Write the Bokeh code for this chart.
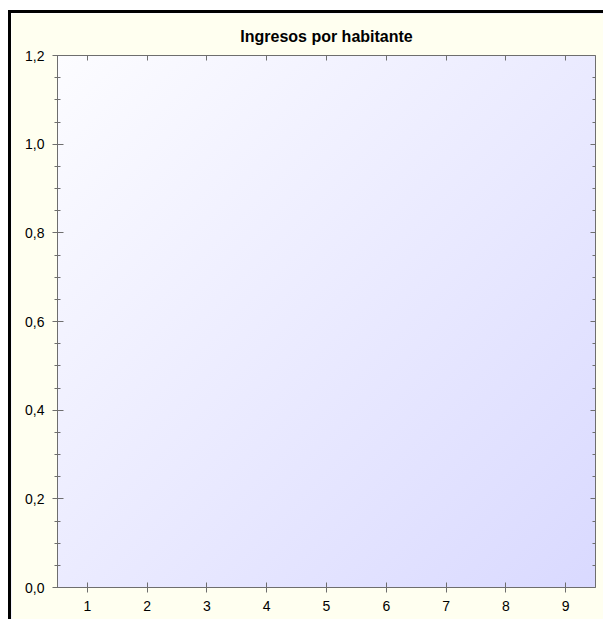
from bokeh.plotting import figure
from bokeh.models import LinearAxis, FixedTicker, CustomJSTickFormatter, Range1d
from bokeh.embed import file_html
from bokeh.resources import INLINE

# Data (empty chart: only axes)
title_text = "Ingresos por habitante"
x_ticks = [1, 2, 3, 4, 5, 6, 7, 8, 9]
x_range = (0.5, 9.5)
y_ticks = [0.0, 0.2, 0.4, 0.6, 0.8, 1.0, 1.2]
y_minor = [0.05, 0.1, 0.15, 0.25, 0.3, 0.35, 0.45, 0.5, 0.55, 0.65, 0.7, 0.75,
           0.85, 0.9, 0.95, 1.05, 1.1, 1.15]
y_range = (0.0, 1.2)

AX = "#6e6e6e"
FONT = "Liberation Sans"

p = figure(width=595, height=609, output_backend="svg", toolbar_location=None,
           x_range=Range1d(*x_range), y_range=Range1d(*y_range),
           x_axis_location=None, y_axis_location=None,
           min_border_left=46, min_border_right=11, min_border_top=42, min_border_bottom=35)

p.border_fill_color = "#FFFFF0"
p.background_fill_alpha = 0
p.outline_line_color = None
p.grid.visible = False
p.styles = {
    "background": "linear-gradient(to bottom right, #FFFFFF 0%, #D8D8FF 100%)",
    "border-top": "3px solid black",
    "border-left": "3px solid black",
    "margin-top": "10px",
    "margin-left": "8px",
}

p.title.text = title_text
p.title.align = "center"
p.title.text_font = FONT
p.title.text_font_size = "16px"
p.title.text_font_style = "bold"
p.title.text_color = "black"
p.title.standoff = 22

fmt = CustomJSTickFormatter(code="return tick.toFixed(1).replace('.', ',');")
empty = CustomJSTickFormatter(code="return '';")

def style(ax):
    ax.axis_line_color = AX
    ax.major_tick_line_color = AX
    ax.minor_tick_line_color = AX
    ax.major_label_text_font = FONT
    ax.major_label_text_font_size = "14px"
    ax.major_label_text_color = "black"

# bottom
xb = LinearAxis(ticker=FixedTicker(ticks=x_ticks), major_tick_in=5, major_tick_out=5,
                minor_tick_in=0, minor_tick_out=0, major_label_standoff=8)
style(xb)
p.add_layout(xb, "below")
# top
xt = LinearAxis(ticker=FixedTicker(ticks=x_ticks), formatter=empty, major_tick_in=5,
                major_tick_out=0, minor_tick_in=0, minor_tick_out=0,
                major_label_standoff=0)
style(xt)
xt.major_label_text_font_size = "1px"
p.add_layout(xt, "above")
# left
yl = LinearAxis(ticker=FixedTicker(ticks=y_ticks, minor_ticks=y_minor), formatter=fmt,
                major_tick_in=6, major_tick_out=5, minor_tick_in=3, minor_tick_out=3,
                major_label_standoff=8)
style(yl)
p.add_layout(yl, "left")
# right
yr = LinearAxis(ticker=FixedTicker(ticks=y_ticks, minor_ticks=y_minor), formatter=empty,
                major_tick_in=5, major_tick_out=0, minor_tick_in=3, minor_tick_out=0,
                major_label_standoff=0)
style(yr)
yr.major_label_text_font_size = "1px"
p.add_layout(yr, "right")

open("out.html", "w").write(file_html(p, INLINE))
